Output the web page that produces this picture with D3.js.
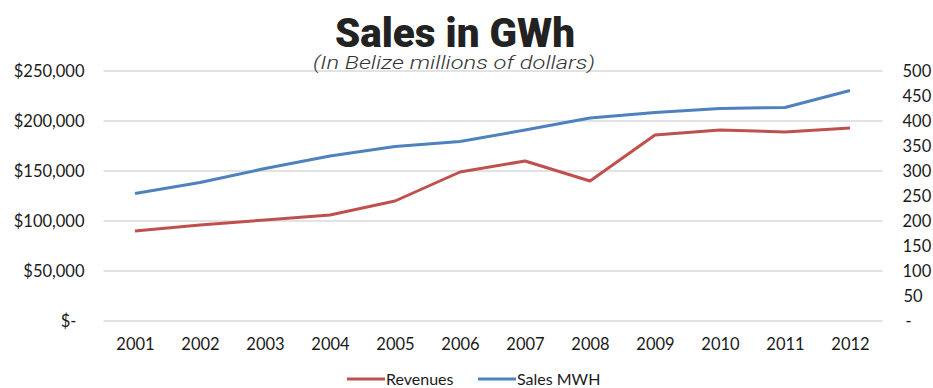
<!DOCTYPE html>
<html>
<head>
<meta charset="utf-8">
<script src="https://cdn.jsdelivr.net/npm/d3@7"></script>
<style>
  html, body { margin: 0; padding: 0; background: #fff; }
  svg { display: block; }
  .tick text { font-family: Lato, "Open Sans", sans-serif; font-size: 16.5px; fill: #1a1a1a; }
</style>
</head>
<body>
<div id="chart"></div>
<script>
// Years on the horizontal axis
const years = ["2001","2002","2003","2004","2005","2006","2007","2008","2009","2010","2011","2012"];
// Revenues in Belize dollars (left axis)
const revenues = [90000, 96000, 101000, 106000, 120000, 149000, 160000, 140000, 186000, 191000, 189000, 193000];
// Sales in MWh (right axis)
const salesMwh = [255, 277, 305, 330, 349, 359, 382, 406, 417, 425, 427, 461];
// Axis ticks
const leftTicks = [0, 50000, 100000, 150000, 200000, 250000];
const rightTicks = [0, 50, 100, 150, 200, 250, 300, 350, 400, 450, 500];
const seriesNames = ["Revenues", "Sales MWH"];
const colors = ["#c0504d", "#4f81bd"];

const W = 933, H = 388;
const plot = { left: 102.5, right: 882.5, top: 71, bottom: 321 };

const svg = d3.select("#chart").append("svg")
  .attr("width", W).attr("height", H);

const x = d3.scalePoint().domain(years).range([plot.left, plot.right]).padding(0.5);
const yL = d3.scaleLinear().domain([0, 250000]).range([plot.bottom, plot.top]);
const yR = d3.scaleLinear().domain([0, 500]).range([plot.bottom, plot.top]);

// Horizontal gridlines
svg.append("g")
  .selectAll("line").data(leftTicks).join("line")
  .attr("x1", plot.left + 1).attr("x2", plot.right)
  .attr("y1", d => yL(d)).attr("y2", d => yL(d))
  .attr("stroke", "#d9d9d9").attr("stroke-width", 1.3);

// Left axis: dollar amounts
const fmtL = d => d === 0 ? "$-" : "$" + d3.format(",")(d);
const gL = svg.append("g")
  .attr("transform", `translate(${plot.left - 18},0)`)
  .call(d3.axisLeft(yL).tickValues(leftTicks).tickFormat(fmtL).tickSize(0).tickPadding(0));
gL.select(".domain").remove();
gL.selectAll(".tick text").attr("dy", "0.35em")
  .attr("dx", d => d === 0 ? -8 : 0);

// Right axis: MWh
const fmtR = d => d === 0 ? "-" : String(d);
const gR = svg.append("g")
  .attr("transform", `translate(${plot.right + 20},0)`)
  .call(d3.axisRight(yR).tickValues(rightTicks).tickFormat(fmtR).tickSize(0).tickPadding(0));
gR.select(".domain").remove();
gR.selectAll(".tick text").attr("dy", "0.35em")
  .attr("dx", d => d === 0 ? 3 : (d < 100 ? 1 : 0));

// Bottom axis: years
const gX = svg.append("g")
  .attr("transform", `translate(0,${plot.bottom + 17})`)
  .call(d3.axisBottom(x).tickSize(0).tickPadding(0));
gX.select(".domain").remove();
gX.selectAll(".tick text").attr("dy", "0.71em");

// Series lines
const lineL = d3.line().x((d, i) => x(years[i])).y(d => yL(d));
const lineR = d3.line().x((d, i) => x(years[i])).y(d => yR(d));

svg.append("path").datum(revenues)
  .attr("d", lineL).attr("fill", "none")
  .attr("stroke", colors[0]).attr("stroke-width", 3)
  .attr("stroke-linejoin", "round");

svg.append("path").datum(salesMwh)
  .attr("d", lineR).attr("fill", "none")
  .attr("stroke", colors[1]).attr("stroke-width", 3)
  .attr("stroke-linejoin", "round");

// Title and subtitle
svg.append("text")
  .attr("x", 455).attr("y", 47)
  .attr("text-anchor", "middle")
  .attr("font-family", "Roboto, sans-serif")
  .attr("font-weight", 900)
  .attr("font-size", 41)
  .attr("fill", "#222")
  .attr("textLength", 240).attr("lengthAdjust", "spacingAndGlyphs")
  .text("Sales in GWh");

svg.append("text")
  .attr("x", 454).attr("y", 69)
  .attr("text-anchor", "middle")
  .attr("font-family", "Roboto, sans-serif")
  .attr("font-style", "italic")
  .attr("font-weight", 300)
  .attr("font-size", 19)
  .attr("fill", "#333")
  .attr("textLength", 282).attr("lengthAdjust", "spacingAndGlyphs")
  .text("(In Belize millions of dollars)");

// Legend
const legendItems = [
  { name: seriesNames[0], color: colors[0], x: 347 },
  { name: seriesNames[1], color: colors[1], x: 478 }
];
const lg = svg.append("g").selectAll("g").data(legendItems).join("g")
  .attr("transform", d => `translate(${d.x},379)`);
lg.append("line")
  .attr("x1", 0).attr("x2", 38).attr("y1", 0).attr("y2", 0)
  .attr("stroke", d => d.color).attr("stroke-width", 3);
lg.append("text")
  .attr("x", 39).attr("y", 0).attr("dy", "0.35em")
  .attr("font-family", "Lato, sans-serif")
  .attr("font-size", 16)
  .attr("fill", "#1a1a1a")
  .text(d => d.name);
</script>
</body>
</html>
